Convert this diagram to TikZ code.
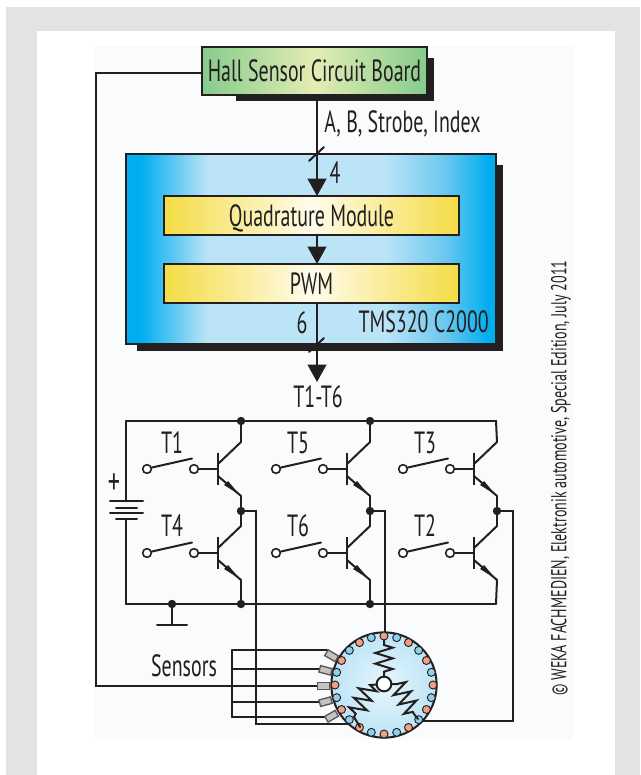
\documentclass[tikz,border=0pt]{standalone}
\usepackage{fontspec}
\setmainfont[FakeStretch=0.65]{PT Sans}
\usetikzlibrary{calc,arrows.meta,positioning,decorations.pathmorphing}
\definecolor{ink}{HTML}{231F20}
\definecolor{page}{HTML}{E2E3E5}
\definecolor{inner}{HTML}{FAFBFC}
\definecolor{bluea}{HTML}{00AEEF}
\definecolor{blueb}{HTML}{6CC8EF}
\definecolor{bluec}{HTML}{BCE4F7}
\definecolor{greena}{HTML}{86CB8C}
\definecolor{greenb}{HTML}{E3EDB4}
\definecolor{yellowa}{HTML}{F4DC45}
\definecolor{yellowb}{HTML}{FFFCEC}
\definecolor{coilred}{HTML}{F4A080}
\definecolor{coilblue}{HTML}{8FD0EE}
\definecolor{sensorgrey}{HTML}{C4C4C2}
\pgfdeclarehorizontalshading{blueshade}{100bp}{color(0bp)=(bluea); color(25bp)=(bluea); color(27bp)=(bluea); color(36bp)=(bluec); color(60bp)=(bluec); color(68bp)=(blueb); color(74bp)=(bluea); color(100bp)=(bluea)}
\pgfdeclarehorizontalshading{greenshade}{100bp}{color(0bp)=(greena); color(25bp)=(greena); color(50bp)=(greenb); color(75bp)=(greena); color(100bp)=(greena)}
\pgfdeclarehorizontalshading{yellowshade}{100bp}{color(0bp)=(yellowa); color(25bp)=(yellowa); color(50bp)=(yellowb); color(75bp)=(yellowa); color(100bp)=(yellowa)}
\tikzset{
  wire/.style={draw=ink,line width=1.5pt,line cap=round},
  flow/.style={wire,-{Triangle[length=13pt,width=14pt]}},
  lbl/.style={font=\fontsize{23}{25}\selectfont,text=ink,inner sep=0pt},
  block/.style={draw=ink,line width=1.2pt,inner sep=0pt,outer sep=0pt,text depth=0pt,lbl},
  dot/.style={circle,fill=ink,inner sep=0pt,minimum size=6.3pt},
  pin/.style={circle,draw=ink,fill=white,line width=1.2pt,inner sep=0pt,minimum size=6.5pt},
  slot/.style={circle,draw=ink,line width=.7pt,inner sep=0pt,minimum size=6pt},
  sensor/.style={draw=ink!75,fill=sensorgrey,line width=1pt,inner sep=0pt,minimum width=9pt,minimum height=5pt},
  coil/.style={decoration={zigzag,amplitude=6.5pt,segment length=8pt}}
}
\begin{document}
\begin{tikzpicture}[x=.75pt,y=-.75pt]
\useasboundingbox (0,0) rectangle (640,775);
% panels
\fill[white] (0,0) rectangle (640,775);
\fill[page] (6,7) rectangle (640,775);
\fill[white] (37,31) rectangle (615,775);
\fill[inner] (95,46) rectangle (573,740);
% blocks
\fill[ink] (236,58) rectangle (434,101);
\fill[ink] (137,165) rectangle (503,351);
\node[block,shading=greenshade,minimum width=168.75pt,minimum height=36pt] (hall) at (314.5,71){Hall Sensor Circuit Board};
\node[block,shading=blueshade,minimum width=277.5pt,minimum height=142.5pt] (mcu) at (311,249){};
\node[block,shading=yellowshade,minimum width=221.25pt,minimum height=29.25pt] (quad) at (311.5,215.5){Quadrature Module};
\node[block,shading=yellowshade,minimum width=221.25pt,minimum height=29.25pt] (pwm) at (311.5,283.5){PWM};
\coordinate (hallout) at (317,95);
\coordinate (quadin) at (317,196);
\coordinate (quadout) at (317,235);
\coordinate (pwmin) at (317,264);
\coordinate (pwmout) at (317,303);
\coordinate (gate) at (317,382);
\draw[flow] (hallout) -- (quadin);
\draw[flow] (quadout) -- (pwmin);
\draw[flow] (pwmout) -- (gate);
\draw[wire] (309,161) -- (324,147);
\draw[wire] (309,352) -- (324,338);
\node[lbl,right] (sigs) at (324,124){A, B, Strobe, Index};
\node[lbl] (four) at (335,173){4};
\node[lbl] (six) at (302,323){6};
\node[lbl,left] (chip) at (489,322){TMS320 C2000};
\node[lbl] (gates) at (318,397){T1-T6};
% inverter
\coordinate (railtl) at (126,421);
\coordinate (railtr) at (496,421);
\coordinate (railbl) at (126,604);
\coordinate (railbr) at (496,604);
\draw[wire] (railtl) -- (railtr);
\draw[wire] (railbl) -- (railbr);
\coordinate (batttop) at (126,501);
\coordinate (battbot) at (126,519);
\draw[wire] (railtl) -- (batttop);
\draw[wire] (battbot) -- (railbl);
\draw[wire] (110,501) -- (143,501);
\draw[wire] (116,508) -- (137,508);
\draw[wire] (110,513) -- (143,513);
\draw[wire] (116,519) -- (137,519);
\node[lbl,font=\fontsize{28}{28}\selectfont] (plus) at (114,484){+};
\foreach \col/\dx in {a/0,b/129,c/256}{
  \node[dot] (mid\col) at (241+\dx,511){};
  \foreach \row/\dy in {u/0,l/84}{
    \node[pin] (in\col\row) at (147+\dx,469+\dy){};
    \node[pin] (out\col\row) at (194+\dx,469+\dy){};
    \coordinate (base\col\row) at (218+\dx,469+\dy);
    \coordinate (cbar\col\row) at (218+\dx,464+\dy);
    \coordinate (ebar\col\row) at (218+\dx,476+\dy);
    \coordinate (cbend\col\row) at (241+\dx,442+\dy);
    \coordinate (ebend\col\row) at (241+\dx,496+\dy);
    \draw[wire,line cap=butt] (218+\dx,453+\dy) -- (218+\dx,485+\dy);
    \draw[wire] (in\col\row) ++(5,-1.5) -- ++(40,-9);
    \draw[wire] (out\col\row) -- (base\col\row);
    \draw[wire] (cbar\col\row) -- (cbend\col\row);
    \draw[wire] (ebar\col\row) -- (ebend\col\row);
    \fill[ink] ($(ebar\col\row)!.94!(ebend\col\row)$) -- ($(ebar\col\row)!.35!(ebend\col\row)+(-2,2)$) -- ($(ebar\col\row)!.35!(ebend\col\row)+(2,-2)$) -- cycle;
  }
}
\node[dot] (topa) at (241,421){};
\node[dot] (topb) at (370,421){};
\node[dot] (bota) at (241,604){};
\node[dot] (botb) at (370,604){};
\node[dot] (botg) at (172,604){};
\draw[wire] (topa) -- (cbendau);
\draw[wire] (topb) -- (cbendbu);
\draw[wire] (railtr) -- (cbendcu);
\draw[wire] (ebendau) -- (mida);
\draw[wire] (ebendbu) -- (midb);
\draw[wire] (ebendcu) -- (midc);
\draw[wire] (mida) -- (cbendal);
\draw[wire] (midb) -- (cbendbl);
\draw[wire] (midc) -- (cbendcl);
\draw[wire] (ebendal) -- (bota);
\draw[wire] (ebendbl) -- (botb);
\draw[wire] (ebendcl) -- (railbr);
\coordinate (gnd) at (172,625);
\draw[wire] (botg) -- (gnd);
\draw[wire] (157,625) -- (187,625);
\node[lbl] at (172,443) (t1){T1};
\node[lbl] at (172,526) (t4){T4};
\node[lbl] at (298,443) (t5){T5};
\node[lbl] at (298,526) (t6){T6};
\node[lbl] at (425,443) (t3){T3};
\node[lbl] at (425,526) (t2){T2};
% motor
\draw[wire] (mida) -- (256,511) -- (256,724) -- (362,724);
\draw[wire] (midb) -- (385,511) -- (385,636);
\draw[wire] (midc) -- (513,511) -- (513,721) -- (420,721);
% hall wiring
\draw[wire] (232,650) -- (232,717);
\foreach \s/\yy/\xx in {a/650/327,b/669/320,d/702/320,e/717/328}{
  \coordinate (lead\s) at (\xx,\yy);
  \draw[wire] (232,\yy) -- (lead\s);
}
\coordinate (leadc) at (318,686);
\draw[wire] (hall.west |- 0,73) -- (96,73) -- (96,686) -- (leadc);
\node[circle,draw=ink,line width=1.5pt,inner color=bluec!35!white,outer color=bluec,inner sep=0pt,minimum size=79pt] (motor) at (384,685){};
\foreach \a in {0,30,...,330}{
  \node[slot,fill=coilred] (slot\a) at ($(motor.center)+(\a:49)$){};
}
\foreach \a in {15,45,...,345}{
  \node[slot,fill=coilblue] (slot\a) at ($(motor.center)+(\a:49)$){};
}
\node[pin,line width=1.5pt,minimum size=11pt] (hub) at (384,684){};
\draw[wire,line join=miter] (slot270) -- (384,645) decorate[coil]{-- (384,673)} -- (hub);
\draw[wire,line join=miter] (hub) -- (370,685) decorate[coil]{-- (354,717)} -- (360,727);
\draw[wire,line join=miter] (hub) -- (397,684) decorate[coil]{-- (414,714)} -- (418,719);
\foreach \s/\a in {a/-30,b/-15,c/0,d/15,e/30}{
  \node[sensor,rotate=\a] (sens\s) at ($(384,686)+(180-\a:60.5)$){};
}
\node[lbl] (sensors) at (184,666){Sensors};
\node[lbl,font=\fontsize{16.2}{18}\selectfont,rotate=90] (credit) at (561,478){© WEKA FACHMEDIEN, Elektronik automotive, Special Edition, July 2011};
\end{tikzpicture}
\end{document}
